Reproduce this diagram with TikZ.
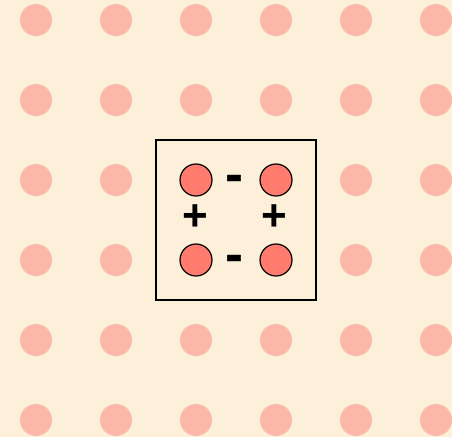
\documentclass[tikz,border=0pt]{standalone}
\usepackage{fontspec}
\setmainfont{Liberation Sans}
\definecolor{bgcol}{HTML}{FDF0DA}
\definecolor{dotcol}{HTML}{FCB8A8}
\definecolor{ballcol}{HTML}{FF7B6D}
\begin{document}
\begin{tikzpicture}[x=1pt,y=-1pt,
  bgdot/.style={circle,fill=dotcol,inner sep=0pt,minimum size=32pt},
  ball/.style={circle,draw=black,line width=1.2pt,fill=ballcol,inner sep=0pt,minimum size=32pt},
  sign/.style={font=\fontsize{44}{44}\selectfont\bfseries,inner sep=0pt,anchor=base},
  minussign/.style={font=\fontsize{54}{54}\selectfont\bfseries,inner sep=0pt,anchor=base}]
\fill[bgcol] (0,0) rectangle (452,437);
\useasboundingbox (0,0) rectangle (452,437);
\begin{scope}
\clip (0,0) rectangle (452,437);
\foreach \i in {0,...,5}{
  \foreach \j in {0,...,5}{
    \node[bgdot] (d\i\j) at (36+80*\i,20+80*\j) {};
  }
}
\end{scope}
\node[draw=black,line width=1.2pt,fill=bgcol,minimum width=160pt,minimum height=160pt,inner sep=0pt] (box) at (236,220) {};
\node[ball] (a) at (196,180) {};
\node[ball] (b) at (276,180) {};
\node[ball] (c) at (196,260) {};
\node[ball] (d) at (276,260) {};
\node[minussign] (m1) at (234,192) {-};
\node[minussign] (m2) at (234,272) {-};
\node[sign] (p1) at (195,230) {+};
\node[sign] (p2) at (274,230) {+};
\end{tikzpicture}
\end{document}
